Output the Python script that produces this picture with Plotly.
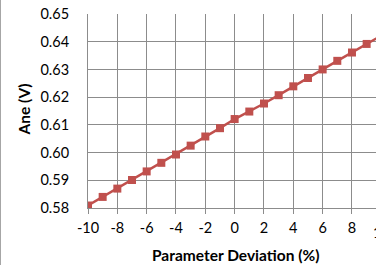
import plotly.graph_objects as go

deviation = [-10, -9, -8, -7, -6, -5, -4, -3, -2, -1, 0, 1, 2, 3, 4, 5, 6, 7, 8, 9, 10]
ane = [0.5809, 0.5840, 0.5870, 0.5901, 0.5932, 0.5963, 0.5993, 0.6025, 0.6058, 0.6088,
       0.6121, 0.6148, 0.6177, 0.6207, 0.6239, 0.6269, 0.6300, 0.6331, 0.6361, 0.6392, 0.6422]
x_ticks = [-10, -8, -6, -4, -2, 0, 2, 4, 6, 8, 10]
y_ticks = [0.58, 0.59, 0.60, 0.61, 0.62, 0.63, 0.64, 0.65]
x_title = "Parameter Deviation (%)"
y_title = "Ane (V)"

RED = "#C0504D"
GRID = "#8C8C8C"
FONT = "Lato, sans-serif"
TICK_SIZE = 14.5
TITLE_SIZE = 15.5

W, H = 376, 265
L, T, B = 88, 14, 57
plot_w = W - L
plot_h = H - T - B
px_per_unit = 14.665
x_max = x_ticks[0] + plot_w / px_per_unit
bottom_px = T + plot_h

fig = go.Figure()
fig.add_trace(go.Scatter(
    x=deviation, y=ane, mode="lines+markers",
    line=dict(color=RED, width=2.5),
    marker=dict(symbol="square", size=8, color=RED),
    showlegend=False,
))

fig.update_layout(
    width=W, height=H,
    margin=dict(l=L, r=0, t=T, b=B, pad=0),
    paper_bgcolor="white", plot_bgcolor="white",
    font=dict(family=FONT, size=TICK_SIZE, color="#000000"),
    xaxis=dict(
        range=[x_ticks[0], x_max], tickmode="array", tickvals=x_ticks,
        ticktext=[str(v) for v in x_ticks],
        showgrid=True, gridcolor=GRID, gridwidth=1,
        showline=True, linecolor=GRID, linewidth=1,
        ticks="outside", ticklen=5, tickcolor=GRID, tickwidth=1,
        ticklabelstandoff=2,
        zeroline=False, fixedrange=True,
        tickfont=dict(family=FONT, size=TICK_SIZE),
    ),
    yaxis=dict(
        range=[y_ticks[0], y_ticks[-1]], tickmode="array", tickvals=y_ticks,
        ticktext=[f"{v:.2f}" for v in y_ticks],
        showgrid=True, gridcolor=GRID, gridwidth=1,
        showline=True, linecolor=GRID, linewidth=1,
        ticks="outside", ticklen=15, tickcolor="rgba(0,0,0,0)",
        zeroline=False, fixedrange=True,
        tickfont=dict(family=FONT, size=TICK_SIZE),
    ),
)

# the "10" tick label sits just past the visible edge (clipped like the reference)
fig.add_annotation(
    x=(x_ticks[-1] - x_ticks[0]) * px_per_unit / plot_w, xref="paper",
    y=-(232.5 - bottom_px) / plot_h, yref="paper",
    text=str(x_ticks[-1]), showarrow=False, xanchor="center", yanchor="middle",
    font=dict(family=FONT, size=TICK_SIZE),
)
fig.add_annotation(
    x=(235.5 - L) / plot_w, xref="paper", y=-(254.5 - bottom_px) / plot_h, yref="paper",
    text=f"<b>{x_title}</b>", showarrow=False, xanchor="center", yanchor="middle",
    font=dict(family=FONT, size=TITLE_SIZE),
)
fig.add_annotation(
    x=(23.5 - L) / plot_w, xref="paper", y=(bottom_px - 110) / plot_h, yref="paper",
    text=f"<b>{y_title}</b>", showarrow=False, textangle=-90,
    xanchor="center", yanchor="middle",
    font=dict(family=FONT, size=TITLE_SIZE),
)
# left edge of the chart frame
fig.add_shape(
    type="line", xref="paper", yref="paper",
    x0=(0.5 - L) / plot_w, x1=(0.5 - L) / plot_w,
    y0=-(H - bottom_px) / plot_h, y1=bottom_px / plot_h,
    line=dict(color="#A6A6A6", width=1),
)

fig.write_html(
    "out.html",
    config={"displayModeBar": False, "staticPlot": True},
    post_script="document.body.style.margin='0';document.body.style.overflow='hidden';",
)
